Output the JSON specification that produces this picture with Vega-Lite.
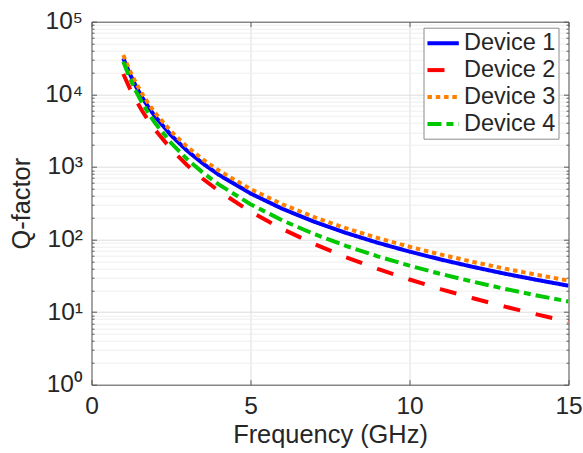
{
  "$schema": "https://vega.github.io/schema/vega-lite/v6.json",
  "autosize": "none",
  "width": 477,
  "height": 363,
  "padding": {"left": 91.5, "top": 21.7, "right": 14.5, "bottom": 68.3},
  "background": "white",
  "config": {
    "font": "Liberation Sans",
    "view": {"stroke": null},
    "axis": {
      "labelFont": "Liberation Sans",
      "titleFont": "Liberation Sans",
      "labelColor": "#262626",
      "titleColor": "#262626",
      "titleFontWeight": "normal",
      "domainColor": "#5a5a5a",
      "tickColor": "#5a5a5a",
      "labelFontSize": 24.5,
      "titleFontSize": 25.4,
      "labelFlush": false
    },
    "legend": {"labelFont": "Liberation Sans"}
  },
  "data": {
    "values": [
      {"f": 1, "q": 31330, "s": "Device 1"},
      {"f": 1.2, "q": 19280, "s": "Device 1"},
      {"f": 1.4, "q": 12790, "s": "Device 1"},
      {"f": 1.6, "q": 8963, "s": "Device 1"},
      {"f": 1.8, "q": 6549, "s": "Device 1"},
      {"f": 2, "q": 4948, "s": "Device 1"},
      {"f": 2.5, "q": 2731, "s": "Device 1"},
      {"f": 3, "q": 1680, "s": "Device 1"},
      {"f": 3.5, "q": 1115, "s": "Device 1"},
      {"f": 4, "q": 781, "s": "Device 1"},
      {"f": 5, "q": 431, "s": "Device 1"},
      {"f": 6, "q": 265, "s": "Device 1"},
      {"f": 7, "q": 176, "s": "Device 1"},
      {"f": 8, "q": 123.3, "s": "Device 1"},
      {"f": 9, "q": 90.2, "s": "Device 1"},
      {"f": 10, "q": 68.1, "s": "Device 1"},
      {"f": 11, "q": 52.8, "s": "Device 1"},
      {"f": 12, "q": 41.9, "s": "Device 1"},
      {"f": 13, "q": 33.8, "s": "Device 1"},
      {"f": 14, "q": 27.8, "s": "Device 1"},
      {"f": 15, "q": 23.1, "s": "Device 1"},

      {"f": 1, "q": 19050, "s": "Device 2"},
      {"f": 1.2, "q": 12150, "s": "Device 2"},
      {"f": 1.4, "q": 8228, "s": "Device 2"},
      {"f": 1.6, "q": 5834, "s": "Device 2"},
      {"f": 1.8, "q": 4285, "s": "Device 2"},
      {"f": 2, "q": 3238, "s": "Device 2"},
      {"f": 2.5, "q": 1768, "s": "Device 2"},
      {"f": 3, "q": 1064, "s": "Device 2"},
      {"f": 3.5, "q": 687, "s": "Device 2"},
      {"f": 4, "q": 467, "s": "Device 2"},
      {"f": 5, "q": 241.7, "s": "Device 2"},
      {"f": 6, "q": 139.4, "s": "Device 2"},
      {"f": 7, "q": 86.8, "s": "Device 2"},
      {"f": 8, "q": 57.1, "s": "Device 2"},
      {"f": 9, "q": 39.3, "s": "Device 2"},
      {"f": 10, "q": 28.1, "s": "Device 2"},
      {"f": 11, "q": 20.6, "s": "Device 2"},
      {"f": 12, "q": 15.5, "s": "Device 2"},
      {"f": 13, "q": 11.9, "s": "Device 2"},
      {"f": 14, "q": 9.29, "s": "Device 2"},
      {"f": 15, "q": 7.37, "s": "Device 2"},

      {"f": 1, "q": 34670, "s": "Device 3"},
      {"f": 1.2, "q": 21430, "s": "Device 3"},
      {"f": 1.4, "q": 14260, "s": "Device 3"},
      {"f": 1.6, "q": 10030, "s": "Device 3"},
      {"f": 1.8, "q": 7346, "s": "Device 3"},
      {"f": 2, "q": 5564, "s": "Device 3"},
      {"f": 2.5, "q": 3086, "s": "Device 3"},
      {"f": 3, "q": 1907, "s": "Device 3"},
      {"f": 3.5, "q": 1270, "s": "Device 3"},
      {"f": 4, "q": 892.5, "s": "Device 3"},
      {"f": 5, "q": 495, "s": "Device 3"},
      {"f": 6, "q": 306, "s": "Device 3"},
      {"f": 7, "q": 203.7, "s": "Device 3"},
      {"f": 8, "q": 143.2, "s": "Device 3"},
      {"f": 9, "q": 104.9, "s": "Device 3"},
      {"f": 10, "q": 79.4, "s": "Device 3"},
      {"f": 11, "q": 61.8, "s": "Device 3"},
      {"f": 12, "q": 49.1, "s": "Device 3"},
      {"f": 13, "q": 39.7, "s": "Device 3"},
      {"f": 14, "q": 32.7, "s": "Device 3"},
      {"f": 15, "q": 27.2, "s": "Device 3"},

      {"f": 1, "q": 28180, "s": "Device 4"},
      {"f": 1.2, "q": 16890, "s": "Device 4"},
      {"f": 1.4, "q": 10950, "s": "Device 4"},
      {"f": 1.6, "q": 7523, "s": "Device 4"},
      {"f": 1.8, "q": 5404, "s": "Device 4"},
      {"f": 2, "q": 4019, "s": "Device 4"},
      {"f": 2.5, "q": 2147, "s": "Device 4"},
      {"f": 3, "q": 1286, "s": "Device 4"},
      {"f": 3.5, "q": 834, "s": "Device 4"},
      {"f": 4, "q": 573, "s": "Device 4"},
      {"f": 5, "q": 306, "s": "Device 4"},
      {"f": 6, "q": 183.4, "s": "Device 4"},
      {"f": 7, "q": 118.9, "s": "Device 4"},
      {"f": 8, "q": 81.7, "s": "Device 4"},
      {"f": 9, "q": 58.7, "s": "Device 4"},
      {"f": 10, "q": 43.6, "s": "Device 4"},
      {"f": 11, "q": 33.4, "s": "Device 4"},
      {"f": 12, "q": 26.2, "s": "Device 4"},
      {"f": 13, "q": 20.9, "s": "Device 4"},
      {"f": 14, "q": 16.96, "s": "Device 4"},
      {"f": 15, "q": 13.97, "s": "Device 4"}
    ]
  },
  "layer": [
    {
      "mark": {"type": "line", "opacity": 0},
      "encoding": {
        "x": {"field": "f", "type": "quantitative",
          "scale": {"domain": [0, 15], "nice": false, "zero": false},
          "axis": {"orient": "top", "values": [0, 5, 10, 15], "labels": false, "title": null, "grid": false, "tickSize": -5, "domainColor": "#5a5a5a"}},
        "y": {"field": "q", "type": "quantitative",
          "scale": {"type": "log", "domain": [1, 100000], "nice": false},
          "axis": {"orient": "right", "labels": false, "title": null, "grid": false,
            "values": [1,2,3,4,5,6,7,8,9,10,20,30,40,50,60,70,80,90,100,200,300,400,500,600,700,800,900,1000,2000,3000,4000,5000,6000,7000,8000,9000,10000,20000,30000,40000,50000,60000,70000,80000,90000,100000],
            "tickSize": {"condition": {"test": "indexof([1,10,100,1000,10000,100000], datum.value) >= 0", "value": -5}, "value": -2.5}}}
      }
    },
    {
      "mark": {"type": "line", "strokeWidth": 4, "strokeCap": "butt", "clip": true},
      "encoding": {
        "x": {"field": "f", "type": "quantitative",
          "axis": {"orient": "bottom", "values": [0, 5, 10, 15], "title": "Frequency (GHz)", "grid": true, "gridColor": "#dddddd", "tickSize": -5, "labelPadding": 15, "titlePadding": 4}},
        "y": {"field": "q", "type": "quantitative",
          "axis": {"orient": "left", "title": "Q-factor", "grid": true, "labelPadding": 14, "titlePadding": 10,
            "values": [1,2,3,4,5,6,7,8,9,10,20,30,40,50,60,70,80,90,100,200,300,400,500,600,700,800,900,1000,2000,3000,4000,5000,6000,7000,8000,9000,10000,20000,30000,40000,50000,60000,70000,80000,90000,100000],
            "labelExpr": "datum.value == 1 ? '10⁰' : datum.value == 10 ? '10¹' : datum.value == 100 ? '10²' : datum.value == 1000 ? '10³' : datum.value == 10000 ? '10⁴' : datum.value == 100000 ? '10⁵' : ''",
            "gridColor": {"condition": {"test": "indexof([1,10,100,1000,10000,100000], datum.value) >= 0", "value": "#dcdcdc"}, "value": "#eeeeee"},
            "tickSize": {"condition": {"test": "indexof([1,10,100,1000,10000,100000], datum.value) >= 0", "value": -5}, "value": -2.5}}},
        "color": {"field": "s", "type": "nominal",
          "scale": {"domain": ["Device 1", "Device 2", "Device 3", "Device 4"], "range": ["#0000ff", "#ff0000", "#ff8000", "#00c800"]},
          "legend": {"title": null, "orient": "none", "legendX": 332, "legendY": 6, "labelFontSize": 23.5, "labelColor": "#262626",
            "symbolType": "M-1.05,0H1.8", "symbolSize": 484, "symbolStrokeWidth": 4, "labelOffset": 12, "rowPadding": 1.9, "padding": 2.5,
            "strokeColor": "#8c8c8c", "fillColor": "white", "labelLimit": 200}},
        "strokeDash": {"field": "s", "type": "nominal",
          "scale": {"domain": ["Device 1", "Device 2", "Device 3", "Device 4"], "range": [[1, 0], [17, 16], [4.5, 3.8], [14, 5, 7, 5]]},
          "legend": null}
      }
    }
  ],
  "resolve": {"axis": {"x": "independent", "y": "independent"}}
}
